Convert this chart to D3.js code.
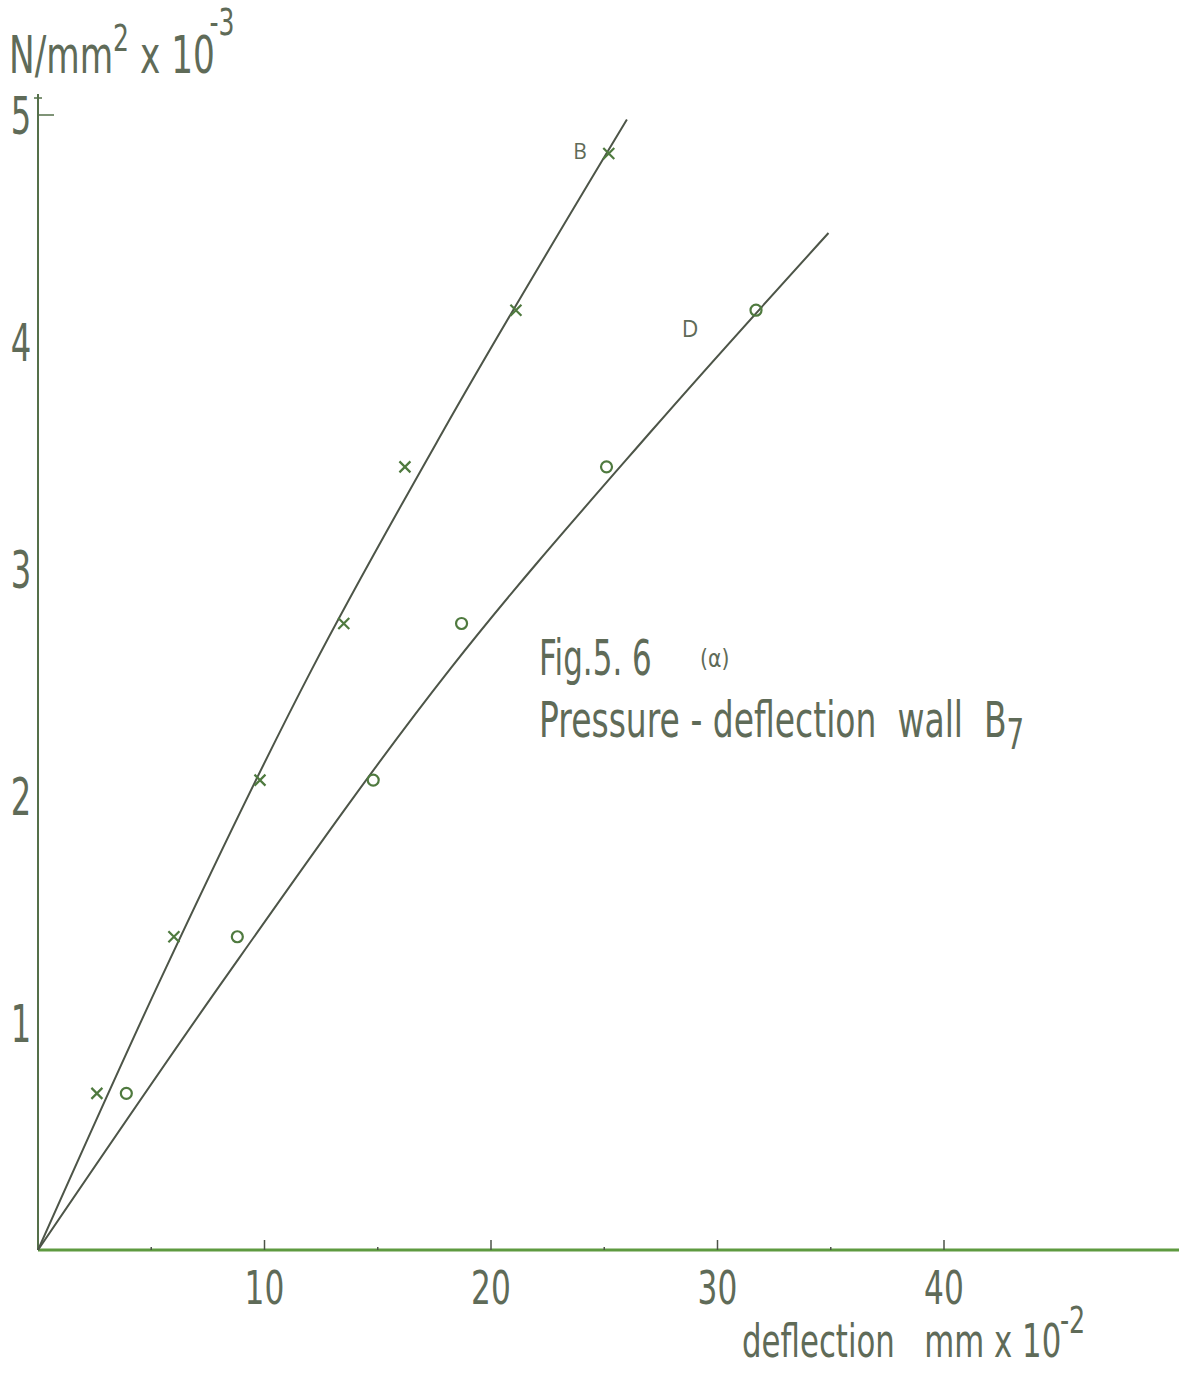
<!DOCTYPE html>
<html>
<head>
<meta charset="utf-8">
<script src="https://cdn.jsdelivr.net/npm/d3@7"></script>
<style>
  body { margin: 0; background: #fff; }
  text { font-family: "DejaVu Sans", sans-serif; fill: #5f6b58; white-space: pre; }
</style>
</head>
<body>
<div id="chart"></div>
<script>
// Data (deflection in mm x 10^-2, pressure in N/mm^2 x 10^-3)
const xTicks = [10, 20, 30, 40];
const xMinorTicks = [5, 15, 25, 35];
const yTicks = [1, 2, 3, 4, 5];

const pressureB = [0.69, 1.38, 2.07, 2.76, 3.45, 4.14, 4.83];
const deflectionB = [2.6, 6.0, 9.8, 13.5, 16.2, 21.1, 25.2];

const pressureD = [0.69, 1.38, 2.07, 2.76, 3.45, 4.14];
const deflectionD = [3.9, 8.8, 14.8, 18.7, 25.1, 31.7];

// hand-drawn fitted curves (deflection, pressure)
const curveB = [[0, 0], [5.4, 1.19], [12.1, 2.56], [17.9, 3.61], [26.0, 4.98]];
const curveD = [[0, 0], [8.2, 1.19], [18.2, 2.56], [27.1, 3.61], [34.9, 4.48]];

const W = 1179, H = 1373;
const x = d3.scaleLinear().domain([0, 50]).range([38, 1170.5]);
const y = d3.scaleLinear().domain([0, 5]).range([1250, 115]);

const svg = d3.select("#chart").append("svg")
  .attr("width", W)
  .attr("height", H);

const axisColor = "#5e9a40";
const lineColor = "#4d5548";
const markColor = "#4f7a3f";

// condensed lettering: squeeze text horizontally
function label(px, py, size, sx) {
  return svg.append("text")
    .attr("transform", `translate(${px},${py}) scale(${sx},1)`)
    .style("font-size", size + "px");
}

// x axis
svg.append("line")
  .attr("x1", x(0)).attr("x2", W)
  .attr("y1", y(0)).attr("y2", y(0))
  .attr("stroke", axisColor).attr("stroke-width", 3);

svg.selectAll(".xtick")
  .data(xTicks)
  .join("line")
  .attr("x1", d => x(d)).attr("x2", d => x(d))
  .attr("y1", y(0)).attr("y2", y(0) - 10)
  .attr("stroke", lineColor).attr("stroke-width", 1.5);

svg.selectAll(".xminor")
  .data(xMinorTicks)
  .join("line")
  .attr("x1", d => x(d)).attr("x2", d => x(d))
  .attr("y1", y(0)).attr("y2", y(0) - 3)
  .attr("stroke", lineColor).attr("stroke-width", 1.5);

svg.selectAll(".xlabel")
  .data(xTicks)
  .join("text")
  .attr("transform", d => `translate(${x(d)},${y(0) + 54}) scale(0.68,1)`)
  .attr("text-anchor", "middle")
  .style("font-size", "46px")
  .text(d => d);

// y axis
svg.append("line")
  .attr("x1", x(0)).attr("x2", x(0))
  .attr("y1", y(0)).attr("y2", 94)
  .attr("stroke", "#55704a").attr("stroke-width", 2);
svg.append("line")
  .attr("x1", x(0) - 4).attr("x2", x(0) + 4)
  .attr("y1", 98).attr("y2", 98)
  .attr("stroke", "#55704a").attr("stroke-width", 1.5);
svg.append("line")
  .attr("x1", x(0)).attr("x2", x(0) + 16)
  .attr("y1", y(5)).attr("y2", y(5))
  .attr("stroke", "#55704a").attr("stroke-width", 1.5);

svg.selectAll(".ylabel")
  .data(yTicks)
  .join("text")
  .attr("transform", d => `translate(21,${y(d) + 19}) scale(0.62,1)`)
  .attr("text-anchor", "middle")
  .style("font-size", "52px")
  .text(d => d);

// axis titles
const yTitle = label(9, 73, 52, 0.66);
yTitle.append("tspan").text("N/mm");
yTitle.append("tspan").attr("dy", -22).style("font-size", "38px").text("2");
yTitle.append("tspan").attr("dy", 22).text(" x 10");
yTitle.append("tspan").attr("dy", -38).attr("dx", -8).style("font-size", "38px").text("-3");

const xTitle = label(742, 1357, 46, 0.67);
xTitle.append("tspan").text("deflection   mm x 10");
xTitle.append("tspan").attr("dy", -24).attr("dx", -2).style("font-size", "38px").text("-2");

// caption
label(539, 675, 50, 0.62).text("Fig.5. 6");
label(700, 667, 24, 0.85).text("(α)");
const cap = label(539, 737, 50, 0.66);
cap.append("tspan").text("Pressure - deflection  wall  B");
cap.append("tspan").attr("dy", 12).style("font-size", "42px").text("7");

// fitted curves
const line = d3.line()
  .x(d => x(d[0]))
  .y(d => y(d[1]))
  .curve(d3.curveMonotoneX);

svg.append("path").datum(curveB)
  .attr("fill", "none").attr("stroke", lineColor).attr("stroke-width", 2)
  .attr("d", line);
svg.append("path").datum(curveD)
  .attr("fill", "none").attr("stroke", lineColor).attr("stroke-width", 2)
  .attr("d", line);

// markers B (crosses)
svg.selectAll(".crossB")
  .data(deflectionB.map((d, i) => [d, pressureB[i]]))
  .join("path")
  .attr("d", d => {
    const cx = x(d[0]), cy = y(d[1]), s = 5.5;
    return `M${cx - s},${cy - s}L${cx + s},${cy + s}M${cx - s},${cy + s}L${cx + s},${cy - s}`;
  })
  .attr("stroke", markColor).attr("stroke-width", 2.2);

// markers D (circles)
svg.selectAll(".circD")
  .data(deflectionD.map((d, i) => [d, pressureD[i]]))
  .join("circle")
  .attr("cx", d => x(d[0]))
  .attr("cy", d => y(d[1]))
  .attr("r", 5.5)
  .attr("fill", "none")
  .attr("stroke", markColor).attr("stroke-width", 2.2);

// curve labels
svg.append("text").attr("x", 580).attr("y", 159).attr("text-anchor", "middle")
  .style("font-size", "21px").style("font-family", "Open Sans, sans-serif").text("B");
svg.append("text").attr("x", 690).attr("y", 337).attr("text-anchor", "middle")
  .style("font-size", "23px").style("font-family", "Open Sans, sans-serif").text("D");
</script>
</body>
</html>
